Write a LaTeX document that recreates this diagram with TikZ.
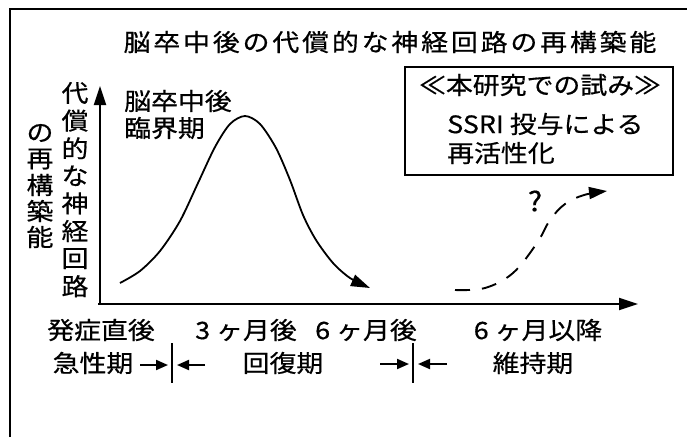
\documentclass[tikz,border=0pt]{standalone}
\usepackage{fontspec}
\setmainfont{Noto Sans CJK JP}[FakeStretch=1.12,FakeBold=0.6]
\usetikzlibrary{arrows.meta}
\begin{document}
\begin{tikzpicture}[x=1pt,y=-1pt,
  lbl/.style={font=\fontsize{24}{27}\selectfont, inner sep=0pt},
  ttl/.style={font=\fontsize{24}{27}\selectfont\addfontfeatures{LetterSpace=12}, inner sep=0pt},
  axis/.style={line width=2.2pt, -{Triangle[length=19pt,width=12pt]}},
  curve/.style={line width=1.8pt, -{Triangle[length=19pt,width=12pt]}},
  dcurve/.style={line width=1.9pt, dash pattern=on 15pt off 12pt, -{Triangle[length=18pt,width=12pt]}},
  parr/.style={line width=2pt, -{Triangle[length=12pt,width=10pt]}},
  bar/.style={line width=2.6pt},
  frame/.style={line width=2pt}]
\useasboundingbox (0,0) rectangle (687,437);
\fill[white] (0,0) rectangle (687,437);
% outer frame (cropped)
\draw[frame] (10,437) -- (10,9) -- (687,9);
% title
\node[ttl] (title) at (390,42) {脳卒中後の代償的な神経回路の再構築能};
% axes
\coordinate (O) at (100,304);
\coordinate (Ox) at (98,304);
\coordinate (Ytop) at (100,86);
\coordinate (Xend) at (638,304);
\draw[axis] (O) -- (Ytop);
\draw[axis] (Ox) -- (Xend);
% vertical axis labels
\foreach \c [count=\i from 0] in {代,償,的,な,神,経,回,路}
  \node[lbl] (vA\i) at (75, 93+27.6*\i) {\c};
\foreach \c [count=\i from 0] in {の,再,構,築,能}
  \node[lbl] (vB\i) at (40, 133+26*\i) {\c};
% critical period label
\node[lbl, anchor=west] (crit1) at (124,101) {脳卒中後};
\node[lbl, anchor=west] (crit2) at (124,128) {臨界期};
% bell curve
\draw[curve] plot[smooth, tension=0.5] coordinates {(120,283) (140,271) (160,251) (180,221) (198,183) (215,147) (230,124) (245,116) (260,124) (276,148) (290,180) (303,215) (316,240) (333,263) (350,278) (370,288)};
% dashed curve
\draw[dcurve] plot[smooth, tension=0.6] coordinates {(455,290) (485,288) (513,273) (537,243) (550,220) (565,204) (584,195) (607,191)};
\node[lbl, font=\fontsize{27}{30}\selectfont] (q) at (535,201) {?};
% box
\node[draw, line width=2pt, minimum width=268pt, minimum height=108pt, inner sep=0pt] (box) at (539,121) {};
\node[lbl] (b1) at (540,85) {≪本研究での試み≫};
\node[lbl, anchor=west] (b2) at (447,124) {SSRI 投与による};
\node[lbl, anchor=west] (b3) at (447,153) {再活性化};
% time labels
\node[lbl] (t0) at (101,330) {発症直後};
\node[lbl] (t3) at (246,330) {3 ヶ月後};
\node[lbl] (t6) at (366,330) {6 ヶ月後};
\node[lbl] (t6p) at (538,330) {6 ヶ月以降};
\node[lbl] (p1) at (93,363) {急性期};
\node[lbl] (p2) at (283,363) {回復期};
\node[lbl] (p3) at (533,363) {維持期};
% period boundaries
\coordinate (m1t) at (172,343); \coordinate (m1b) at (172,383);
\coordinate (m1la) at (140,365); \coordinate (m1lb) at (168,365);
\coordinate (m1ra) at (205,365); \coordinate (m1rb) at (177,365);
\draw[bar] (m1t) -- (m1b);
\draw[parr] (m1la) -- (m1lb);
\draw[parr] (m1ra) -- (m1rb);
\coordinate (m2t) at (413,343); \coordinate (m2b) at (413,383);
\coordinate (m2la) at (380,364); \coordinate (m2lb) at (409,364);
\coordinate (m2ra) at (447,364); \coordinate (m2rb) at (418,364);
\draw[bar] (m2t) -- (m2b);
\draw[parr] (m2la) -- (m2lb);
\draw[parr] (m2ra) -- (m2rb);
\end{tikzpicture}
\end{document}
